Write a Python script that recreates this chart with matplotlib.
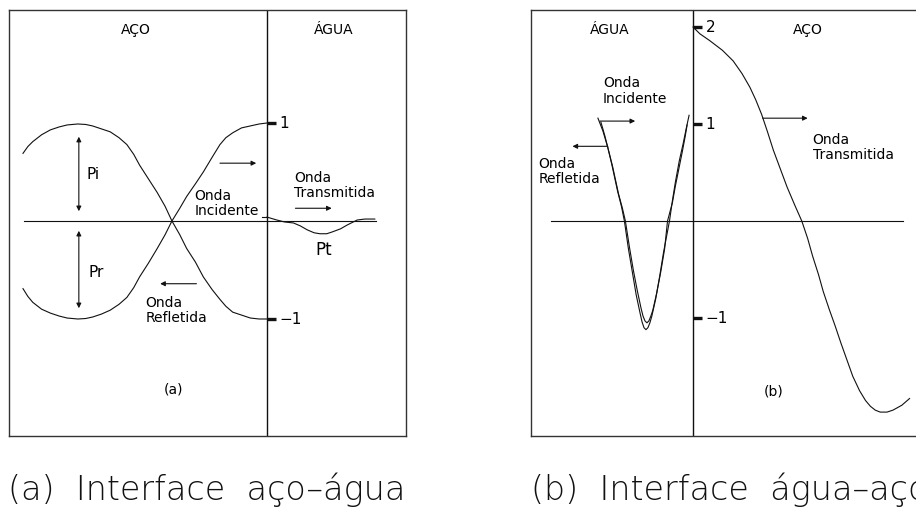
import matplotlib.pyplot as plt

# ---- (a) steel -> water: positions relative to the interface, amplitude 1 = incident peak
inc_a_x = [-2.49, -2.44, -2.39, -2.30, -2.21, -2.12, -2.04, -1.93, -1.85, -1.78,
           -1.69, -1.60, -1.51, -1.43, -1.36, -1.30, -1.21, -1.12, -1.04, -0.97,
           -0.89, -0.82, -0.73, -0.65, -0.56, -0.48, -0.42, -0.35, -0.26, -0.17,
           -0.08, 0.0]
inc_a_y = [-0.69, -0.77, -0.83, -0.90, -0.94, -0.97, -0.99, -1.00, -0.995, -0.98,
           -0.95, -0.91, -0.85, -0.78, -0.68, -0.57, -0.43, -0.28, -0.14, 0.0,
           0.13, 0.25, 0.38, 0.50, 0.65, 0.78, 0.85, 0.90, 0.95, 0.97,
           0.99, 1.00]
ref_a_x = inc_a_x
ref_a_y = [0.69, 0.76, 0.81, 0.88, 0.93, 0.96, 0.98, 0.99, 0.985, 0.97,
           0.94, 0.91, 0.85, 0.78, 0.68, 0.57, 0.43, 0.29, 0.15, 0.0,
           -0.14, -0.28, -0.42, -0.57, -0.70, -0.80, -0.87, -0.93, -0.96, -0.99,
           -1.00, -1.00]
tra_a_x = [0.0, 0.10, 0.18, 0.27, 0.34, 0.41, 0.48, 0.54, 0.61, 0.67, 0.75, 0.82,
           0.92, 1.00, 1.10]
tra_a_y = [0.04, 0.01, -0.01, -0.02, -0.05, -0.09, -0.12, -0.13, -0.13, -0.11,
           -0.08, -0.04, 0.01, 0.02, 0.02]

# ---- (b) water -> steel
inc_b_x = [-0.97, -0.92, -0.87, -0.83, -0.80, -0.77, -0.73, -0.70, -0.66, -0.62,
           -0.58, -0.54, -0.52, -0.50, -0.48, -0.46, -0.44, -0.42, -0.38, -0.34,
           -0.30, -0.24, -0.21, -0.18, -0.14, -0.10, -0.07, -0.04]
inc_b_y = [1.06, 0.93, 0.76, 0.59, 0.45, 0.31, 0.15, 0.0, -0.28, -0.52,
           -0.76, -0.95, -1.04, -1.10, -1.12, -1.10, -1.05, -0.98, -0.80, -0.57,
           -0.32, 0.0, 0.21, 0.40, 0.62, 0.80, 0.95, 1.09]
ref_b_x = [-0.94, -0.90, -0.86, -0.82, -0.79, -0.76, -0.72, -0.69, -0.65, -0.61,
           -0.57, -0.53, -0.51, -0.49, -0.47, -0.45, -0.43, -0.41, -0.37, -0.33,
           -0.29, -0.26, -0.21, -0.18, -0.14, -0.11, -0.08, -0.06]
ref_b_y = [1.02, 0.88, 0.72, 0.56, 0.42, 0.28, 0.13, 0.0, -0.26, -0.50,
           -0.71, -0.90, -0.98, -1.03, -1.05, -1.03, -0.98, -0.92, -0.74, -0.53,
           -0.29, 0.0, 0.19, 0.36, 0.56, 0.71, 0.87, 0.99]
tra_b_x = [0.0, 0.07, 0.17, 0.30, 0.41, 0.50, 0.58, 0.64, 0.70, 0.76, 0.82, 0.89,
           0.96, 1.04, 1.11, 1.17, 1.22, 1.28, 1.33, 1.39, 1.45, 1.51, 1.57, 1.63,
           1.70, 1.76, 1.81, 1.86, 1.91, 1.98, 2.04, 2.13, 2.21]
tra_b_y = [2.00, 1.93, 1.86, 1.76, 1.65, 1.52, 1.38, 1.25, 1.10, 0.92, 0.73, 0.54,
           0.35, 0.16, 0.0, -0.18, -0.36, -0.55, -0.73, -0.91, -1.08, -1.26, -1.43,
           -1.60, -1.75, -1.85, -1.91, -1.95, -1.97, -1.97, -1.95, -1.90, -1.83]

ticks_a = [1, -1]
ticks_b = [2, 1, -1]
tick_labels_a = ['1', '−1']
tick_labels_b = ['2', '1', '−1']

LC = '#111111'
LW = 0.8
plt.rcParams['font.family'] = ['DejaVu Sans']

fig = plt.figure(figsize=(9.16, 5.07), dpi=100)
W, H = 916, 507


def make_axes(left, right, top, bottom, x0, scale_x, scale_y):
    ax = fig.add_axes([left / W, (H - bottom) / H, (right - left) / W, (bottom - top) / H])
    ax.set_xlim((left - x0) / scale_x, (right - x0) / scale_x)
    ax.set_ylim((221 - bottom) / scale_y, (221 - top) / scale_y)
    ax.set_xticks([])
    ax.set_yticks([])
    for s in ax.spines.values():
        s.set_linewidth(1.0)
        s.set_color('#333333')
    return ax


def arrow(ax, x0, x1, y, both=False, vertical=False):
    style = '<|-|>' if both else '-|>'
    if vertical:
        start, end = (x0, y[0]), (x0, y[1])
    else:
        start, end = (x0, y), (x1, y)
    ax.annotate('', xy=end, xytext=start,
                arrowprops=dict(arrowstyle=style, color=LC, lw=LW,
                                mutation_scale=7, shrinkA=0, shrinkB=0))


def interface_ticks(ax, vals, labels):
    for v, lab in zip(vals, labels):
        ax.plot([0, 0.09], [v, v], color=LC, lw=2.4, solid_capstyle='butt')
        ax.text(0.13, v, lab, fontsize=11, va='center', ha='left')


fs = 10

# ---------------- panel (a)
axa = make_axes(9, 406, 10, 436, 267, 98, 98)
axa.axvline(0, color=LC, lw=1.0)
axa.plot([-2.48, 1.11], [0, 0], color=LC, lw=LW)
axa.plot(inc_a_x, inc_a_y, color=LC, lw=LW)
axa.plot(ref_a_x, ref_a_y, color=LC, lw=LW)
axa.plot(tra_a_x, tra_a_y, color=LC, lw=LW)
axa.plot([-0.05, 0.0], [0.04, 0.04], color=LC, lw=LW)
interface_ticks(axa, ticks_a, tick_labels_a)

axa.text(-1.34, 1.95, 'AÇO', fontsize=fs, ha='center', va='center')
axa.text(0.68, 1.95, 'ÁGUA', fontsize=fs, ha='center', va='center')
axa.text(-1.77, 0.47, 'Pi', fontsize=11, ha='center', va='center')
axa.text(-1.74, -0.53, 'Pr', fontsize=11, ha='center', va='center')
axa.text(0.58, -0.30, 'Pt', fontsize=12, ha='center', va='center')
axa.text(-0.74, 0.18, 'Onda\nIncidente', fontsize=fs, ha='left', va='center', linespacing=1.1)
axa.text(0.28, 0.36, 'Onda\nTransmitida', fontsize=fs, ha='left', va='center', linespacing=1.1)
axa.text(-1.24, -0.91, 'Onda\nRefletida', fontsize=fs, ha='left', va='center', linespacing=1.1)
axa.text(-0.95, -1.72, '(a)', fontsize=fs, ha='center', va='center')

arrow(axa, -0.48, -0.11, 0.59)
arrow(axa, 0.29, 0.66, 0.13)
arrow(axa, -0.72, -1.09, -0.64)
arrow(axa, -1.92, None, (0.10, 0.86), both=True, vertical=True)
arrow(axa, -1.92, None, (-0.89, -0.10), both=True, vertical=True)

# ---------------- panel (b)
axb = make_axes(531, 930, 10, 436, 693, 98, 97)
axb.spines['right'].set_visible(False)
axb.axvline(0, color=LC, lw=1.0)
axb.plot([-1.45, 2.14], [0, 0], color=LC, lw=LW)
axb.plot(inc_b_x, inc_b_y, color=LC, lw=LW)
axb.plot(ref_b_x, ref_b_y, color=LC, lw=LW)
axb.plot(tra_b_x, tra_b_y, color=LC, lw=LW)
interface_ticks(axb, ticks_b, tick_labels_b)

axb.text(-0.85, 1.97, 'ÁGUA', fontsize=fs, ha='center', va='center')
axb.text(1.17, 1.97, 'AÇO', fontsize=fs, ha='center', va='center')
axb.text(-0.92, 1.34, 'Onda\nIncidente', fontsize=fs, ha='left', va='center', linespacing=1.1)
axb.text(-1.58, 0.51, 'Onda\nRefletida', fontsize=fs, ha='left', va='center', linespacing=1.1)
axb.text(1.22, 0.76, 'Onda\nTransmitida', fontsize=fs, ha='left', va='center', linespacing=1.1)
axb.text(0.82, -1.76, '(b)', fontsize=fs, ha='center', va='center')

arrow(axb, -0.95, -0.59, 1.03)
arrow(axb, -0.87, -1.23, 0.77)
arrow(axb, 0.71, 1.17, 1.06)

# ---------------- captions (the second one runs off the right edge)
cap_kw = dict(fontsize=24, ha='left', va='center', color='#111111', fontweight='light')
fig.text(8 / W, (H - 490) / H, '(a)  Interface  aço–água', **cap_kw)
fig.text(531 / W, (H - 490) / H, '(b)  Interface  água–aço', **cap_kw)

fig.savefig('out.png', dpi=100)
